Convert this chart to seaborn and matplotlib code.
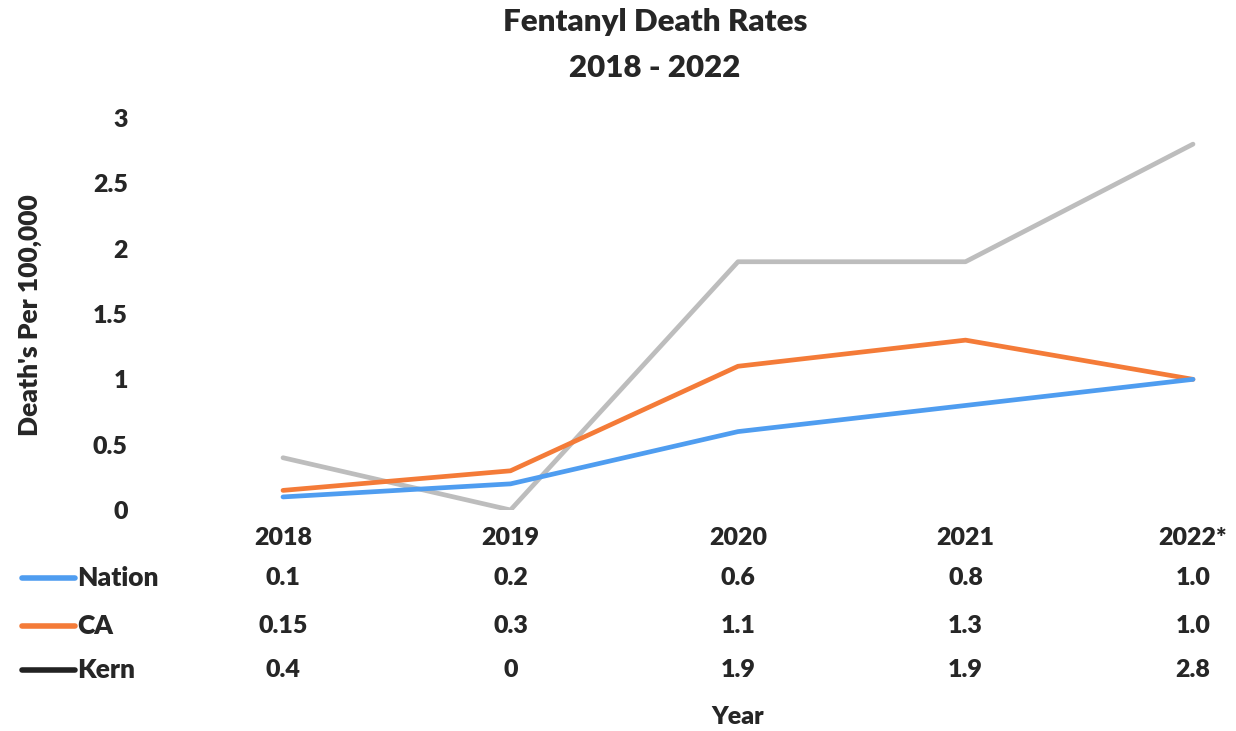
import pandas as pd
import matplotlib
matplotlib.use("Agg")
import matplotlib.pyplot as plt
import seaborn as sns
from matplotlib.lines import Line2D
from matplotlib.transforms import blended_transform_factory

# chart data
years = ["2018", "2019", "2020", "2021", "2022*"]
nation = [0.1, 0.2, 0.6, 0.8, 1.0]
ca = [0.15, 0.3, 1.1, 1.3, 1.0]
kern = [0.4, 0, 1.9, 1.9, 2.8]
nation_txt = ["0.1", "0.2", "0.6", "0.8", "1.0"]
ca_txt = ["0.15", "0.3", "1.1", "1.3", "1.0"]
kern_txt = ["0.4", "0", "1.9", "1.9", "2.8"]

series = ["Nation", "CA", "Kern"]
colors = {"Nation": "#4F9DF0", "CA": "#F47B38", "Kern": "#BDBDBD"}
key_colors = {"Nation": "#4F9DF0", "CA": "#F47B38", "Kern": "#222222"}

df = pd.DataFrame({"year": years * 3,
                   "rate": nation + ca + kern,
                   "series": ["Nation"] * 5 + ["CA"] * 5 + ["Kern"] * 5})
df["pos"] = list(range(5)) * 3

sns.set_style("white")
plt.rcParams["font.family"] = ["Lato", "DejaVu Sans"]
FW = "heavy"
FS = 18

fig = plt.figure(figsize=(12.36, 7.31), dpi=100)
W, H = 1236, 731
ax_left, ax_right, ax_top, ax_bot = 175, 1215, 118, 510
ax = fig.add_axes([ax_left / W, 1 - ax_bot / H, (ax_right - ax_left) / W, (ax_bot - ax_top) / H])

sns.lineplot(data=df, x="pos", y="rate", hue="series", hue_order=["Kern", "CA", "Nation"],
             palette=colors, linewidth=3.4, ax=ax, legend=False)

# 2018 at 283px, 2022 at 1193px
step = (1193 - 283) / 4
ax.set_xlim(-(283 - ax_left) / step, 4 + (ax_right - 1193) / step)
ax.set_ylim(0, 3)
ax.set_yticks([0, 0.5, 1, 1.5, 2, 2.5, 3])
ax.set_yticklabels(["0", "0.5", "1", "1.5", "2", "2.5", "3"], fontsize=FS, fontweight=FW)
ax.tick_params(axis="y", length=0, pad=34)
ax.set_xticks(range(5))
ax.set_xticklabels(years, fontsize=FS, fontweight=FW)
ax.tick_params(axis="x", length=0, pad=12)
for s in ax.spines.values():
    s.set_visible(False)
ax.set_xlabel("Year", fontsize=FS, fontweight=FW, va="center")
ax.set_ylabel("Death's Per 100,000", fontsize=FS + 1, fontweight=FW, va="center")
ax.yaxis.set_label_coords(-(ax_left - 30) / (ax_right - ax_left), (510 - 315) / (ax_bot - ax_top))
ax.xaxis.set_label_coords((738 - ax_left) / (ax_right - ax_left), -(717 - ax_bot) / (ax_bot - ax_top))

fig.text(655 / W, 1 - 22 / H, "Fentanyl Death Rates", ha="center", va="center",
         fontsize=22.5, fontweight=FW)
fig.text(655 / W, 1 - 68 / H, "2018 - 2022", ha="center", va="center",
         fontsize=22.5, fontweight=FW)

# data table below the chart
trans = blended_transform_factory(ax.transData, ax.transAxes)
rows = [("Nation", nation_txt, 578), ("CA", ca_txt, 626), ("Kern", kern_txt, 670)]
for name, vals, ypx in rows:
    ya = -(ypx - ax_bot) / (ax_bot - ax_top)
    for i, v in enumerate(vals):
        ax.text(i, ya, v, transform=trans, ha="center", va="center", fontsize=FS, fontweight=FW)
    yf = 1 - ypx / H
    fig.add_artist(Line2D([22 / W, 75 / W], [yf, yf], color=key_colors[name], lw=4,
                          solid_capstyle="round"))
    fig.text(77 / W, yf, name, ha="left", va="center", fontsize=FS + 1, fontweight=FW)

fig.savefig("out.png", dpi=100, facecolor="white")
